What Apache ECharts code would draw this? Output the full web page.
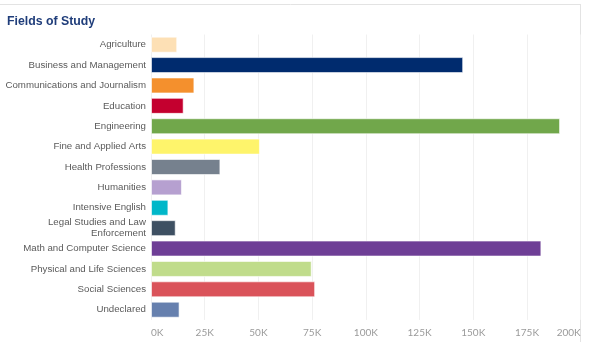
<!DOCTYPE html>
<html>
<head>
<meta charset="utf-8">
<script src="https://cdn.jsdelivr.net/npm/echarts@6/dist/echarts.min.js"></script>
<style>
html,body{margin:0;padding:0;background:#fff;}
#c{width:591px;height:357px;}
</style>
</head>
<body>
<div id="c"></div>
<script>
const categories = [
  "Agriculture",
  "Business and Management",
  "Communications and Journalism",
  "Education",
  "Engineering",
  "Fine and Applied Arts",
  "Health Professions",
  "Humanities",
  "Intensive English",
  "Legal Studies and Law\nEnforcement",
  "Math and Computer Science",
  "Physical and Life Sciences",
  "Social Sciences",
  "Undeclared"
];
const values = [12200, 145300, 20200, 15200, 190400, 50700, 32300, 14400, 8100, 11500, 181700, 74800, 76400, 13300];
const colors = ["#fde0b5", "#002b6e", "#f4902d", "#c4002f", "#71a74b", "#fef46b", "#76818e", "#b6a0d0", "#00b7c9", "#3e5062", "#6e3e96", "#c0dc8b", "#da535a", "#6680ae"];
const xTicks = [0, 25000, 50000, 75000, 100000, 125000, 150000, 175000, 200000];

const chart = echarts.init(document.getElementById('c'), null, {renderer: 'canvas'});
chart.setOption({
  animation: false,
  backgroundColor: '#ffffff',
  title: {
    text: 'Fields of Study',
    left: 2, top: 11,
    textStyle: {color: '#1f3d7a', fontSize: 12.3, fontWeight: 'bold', fontFamily: 'Liberation Sans, Arial, sans-serif'}
  },
  graphic: [
    {type: 'line', shape: {x1: 0, y1: 4.5, x2: 581, y2: 4.5}, style: {stroke: '#e3e3e3', lineWidth: 1}, silent: true},
    {type: 'line', shape: {x1: 580.5, y1: 4, x2: 580.5, y2: 342}, style: {stroke: '#e3e3e3', lineWidth: 1}, silent: true}
  ],
  grid: {left: 151, right: 10.3, top: 34.5, bottom: 37.1, containLabel: false, outerBoundsMode: 'none'},
  xAxis: {
    type: 'value',
    min: xTicks[0], max: xTicks[xTicks.length - 1], interval: xTicks[1] - xTicks[0],
    axisLine: {show: false},
    axisTick: {show: false},
    splitLine: {show: true, lineStyle: {color: '#f0f0f0', width: 1}},
    axisLabel: {
      color: '#9a9a9a', fontSize: 10, margin: 8,
      fontFamily: 'Lato, Liberation Sans, sans-serif',
      alignMinLabel: 'left', alignMaxLabel: 'right',
      formatter: v => (v / 1000) + 'K'
    }
  },
  yAxis: {
    type: 'category',
    data: categories,
    inverse: true,
    axisLine: {show: false},
    axisTick: {show: false},
    splitLine: {show: false},
    axisLabel: {
      color: '#5a5a5a', fontSize: 9.7, margin: 5, lineHeight: 11,
      fontFamily: 'Liberation Sans, Arial, sans-serif'
    }
  },
  series: [{
    type: 'bar',
    data: values.map((v, i) => ({value: v, itemStyle: {color: colors[i]}})),
    barWidth: 16,
    itemStyle: {borderColor: 'rgba(255,255,255,0.6)', borderWidth: 1}
  }]
});
</script>
</body>
</html>
